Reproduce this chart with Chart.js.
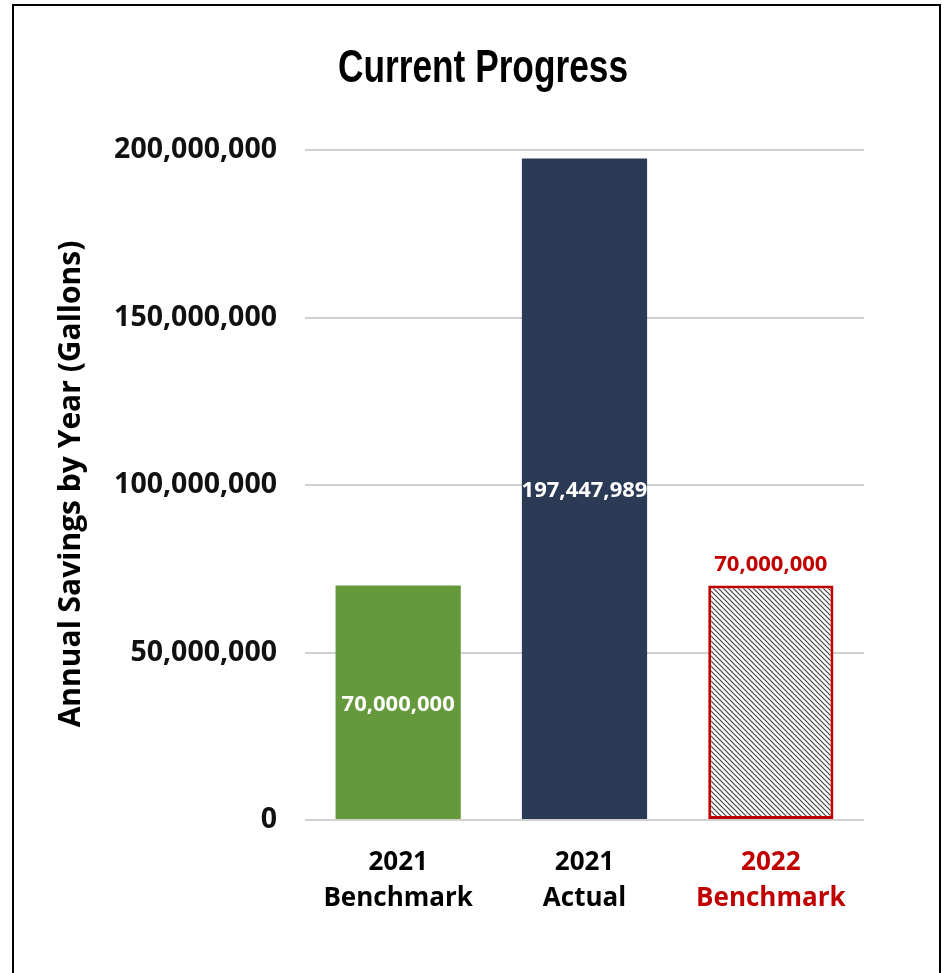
<!DOCTYPE html>
<html>
<head>
<meta charset="utf-8">
<script src="https://cdn.jsdelivr.net/npm/chart.js@4"></script>
<style>
  html, body { margin: 0; padding: 0; background: #fff; }
  #wrap { position: relative; width: 944px; height: 973px; overflow: hidden; }
  #frame { position: absolute; left: 12px; top: 4px; width: 929px; height: 1000px; border: 2px solid #000; box-sizing: border-box; }
  canvas { position: absolute; left: 0; top: 0; }
</style>
</head>
<body>
<div id="wrap">
  <div id="frame"></div>
  <canvas id="progressChart" width="944" height="973"></canvas>
</div>
<script>
const chartTitle = 'Current Progress';
const yAxisTitle = 'Annual Savings by Year (Gallons)';
const categories = [['2021', 'Benchmark'], ['2021', 'Actual'], ['2022', 'Benchmark']];
const savings = [70000000, 197447989, 70000000];
const yTicks = [0, 50000000, 100000000, 150000000, 200000000];

const RED = '#c00000';

function makeHatch() {
  const c = document.createElement('canvas');
  c.width = 5; c.height = 5;
  const g = c.getContext('2d');
  g.fillStyle = '#ffffff';
  g.fillRect(0, 0, 5, 5);
  g.strokeStyle = '#444';
  g.lineWidth = 1.2;
  g.beginPath();
  g.moveTo(-1, -1); g.lineTo(6, 6);
  g.moveTo(-4, 1); g.lineTo(1, 6);
  g.moveTo(1, -4); g.lineTo(6, 1);
  g.stroke();
  return g.createPattern(c, 'repeat');
}

const fmt = v => v.toLocaleString('en-US');

// title, y-axis title and value labels
const textPlugin = {
  id: 'texts',
  afterDraw(chart) {
    const ctx = chart.ctx;
    ctx.save();
    // title, squeezed to a condensed look
    ctx.font = 'bold 47px "Liberation Sans Narrow", "Liberation Sans", sans-serif';
    ctx.fillStyle = '#000';
    ctx.textAlign = 'center';
    ctx.textBaseline = 'middle';
    const w = ctx.measureText(chartTitle).width;
    const sx = 290 / w;
    ctx.translate(483, 69);
    ctx.scale(sx, 1);
    ctx.fillText(chartTitle, 0, 0);
    ctx.restore();

    ctx.save();
    ctx.font = 'bold 30px "Open Sans", sans-serif';
    ctx.fillStyle = '#000';
    ctx.textAlign = 'center';
    ctx.textBaseline = 'middle';
    ctx.translate(71, 484);
    ctx.rotate(-Math.PI / 2);
    ctx.fillText(yAxisTitle, 0, 0);
    ctx.restore();

    ctx.save();
    ctx.font = 'bold 22px "Open Sans", sans-serif';
    ctx.textAlign = 'center';
    ctx.textBaseline = 'middle';
    chart.getDatasetMeta(0).data.forEach((bar, i) => {
      const label = fmt(savings[i]);
      if (i === 2) {
        ctx.fillStyle = RED;
        ctx.fillText(label, bar.x, bar.y - 21);
      } else {
        ctx.fillStyle = '#fff';
        ctx.fillText(label, bar.x, (bar.y + bar.base) / 2 + 2);
      }
    });
    ctx.restore();
  }
};

new Chart(document.getElementById('progressChart'), {
  type: 'bar',
  data: {
    labels: categories,
    datasets: [{
      data: savings,
      backgroundColor: ['#66993b', '#2b3b55', makeHatch()],
      borderColor: ['rgba(0,0,0,0)', 'rgba(0,0,0,0)', RED],
      borderWidth: [0, 0, 3],
      borderSkipped: false,
      barPercentage: 0.672,
      categoryPercentage: 1.0
    }]
  },
  options: {
    responsive: false,
    animation: false,
    devicePixelRatio: 1,
    layout: { padding: { left: 0, top: 150, right: 80, bottom: 0 } },
    plugins: {
      legend: { display: false },
      title: { display: false },
      tooltip: { enabled: false }
    },
    scales: {
      x: {
        afterFit: s => { s.height = 153; },
        grid: { display: false, drawTicks: false },
        border: { display: false },
        ticks: {
          padding: 24,
          font: { family: '"Open Sans", sans-serif', size: 26, weight: 'bold', lineHeight: 1.4 },
          color: c => (c.index === 2 ? RED : '#000')
        }
      },
      y: {
        min: 0,
        max: 200000000,
        afterFit: s => { s.width = 305; },
        afterBuildTicks: s => { s.ticks = yTicks.map(v => ({ value: v })); },
        grid: { color: '#d0d0d0', lineWidth: 2, drawTicks: false },
        border: { display: false },
        ticks: {
          padding: 28,
          font: { family: '"Open Sans", sans-serif', size: 28.5, weight: 'bold' },
          color: '#111',
          callback: v => fmt(v)
        }
      }
    }
  },
  plugins: [textPlugin]
});
</script>
</body>
</html>
